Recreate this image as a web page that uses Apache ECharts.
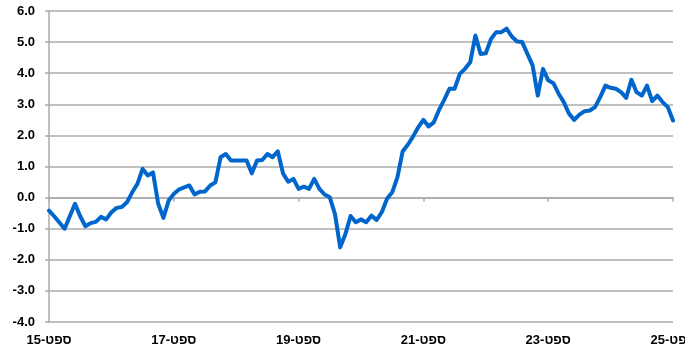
<!DOCTYPE html>
<html>
<head>
<meta charset="utf-8">
<script src="https://cdn.jsdelivr.net/npm/echarts@6/dist/echarts.min.js"></script>
<style>
html,body{margin:0;padding:0;background:#fff;}
#chart{width:685px;height:362px;}
</style>
</head>
<body>
<div id="chart"></div>
<script>
// Monthly series, Sep 2015 .. Sep 2025 (121 points)
const startYear = 2015, startMonth = 9, monthCount = 121;
const values = [
  -0.42, -0.6, -0.8, -1.0, -0.6, -0.2, -0.6, -0.92, -0.82, -0.78,
  -0.62, -0.7, -0.47, -0.33, -0.3, -0.15, 0.17, 0.44, 0.92, 0.71,
  0.81, -0.2, -0.65, -0.1, 0.12, 0.26, 0.33, 0.39, 0.1, 0.19,
  0.2, 0.39, 0.49, 1.3, 1.4, 1.19, 1.19, 1.19, 1.19, 0.78,
  1.19, 1.21, 1.4, 1.3, 1.49, 0.78, 0.51, 0.6, 0.28, 0.35,
  0.28, 0.6, 0.28, 0.1, 0.01, -0.53, -1.6, -1.17, -0.59, -0.79,
  -0.7, -0.79, -0.58, -0.72, -0.47, -0.04, 0.17, 0.65, 1.48, 1.7,
  1.96, 2.26, 2.5, 2.29, 2.42, 2.82, 3.14, 3.5, 3.5, 3.98,
  4.14, 4.35, 5.21, 4.62, 4.64, 5.1, 5.32, 5.32, 5.43, 5.18,
  5.02, 5.0, 4.62, 4.25, 3.28, 4.14, 3.77, 3.68, 3.34, 3.07,
  2.7, 2.5, 2.67, 2.78, 2.8, 2.91, 3.23, 3.6, 3.53, 3.5,
  3.39, 3.21, 3.79, 3.39, 3.28, 3.6, 3.1, 3.28, 3.07, 2.91,
  2.48
];
const tickLabels = ["ספט-15", "ספט-17", "ספט-19", "ספט-21", "ספט-23", "ספט-25"];
const yTicks = { min: -4, max: 6, interval: 1 };

const categories = [];
for (let i = 0; i < monthCount; i++) {
  const m = (startMonth - 1 + i) % 12 + 1;
  const y = startYear + Math.floor((startMonth - 1 + i) / 12);
  categories.push(y + '-' + (m < 10 ? '0' + m : m));
}

const FONT = "Arial, 'Liberation Sans', 'DejaVu Sans', sans-serif";
const GRID_COLOR = '#ababab';

const chart = echarts.init(document.getElementById('chart'), null, { renderer: 'canvas' });
chart.setOption({
  animation: false,
  backgroundColor: '#ffffff',
  grid: { left: 49, right: 12, top: 11, bottom: 40, containLabel: false, outerBoundsMode: 'none' },
  xAxis: [
    {
      type: 'category',
      data: categories,
      boundaryGap: false,
      position: 'bottom',
      axisLine: { show: false, onZero: false },
      axisTick: { show: false },
      splitLine: { show: false },
      axisLabel: {
        interval: 23,
        margin: 12,
        color: '#000',
        fontWeight: 'bold',
        fontSize: 13,
        fontFamily: FONT,
        hideOverlap: false,
        formatter: function (val, idx) { return tickLabels[Math.round(idx / 24)] || ''; }
      }
    },
    {
      type: 'category',
      data: categories,
      boundaryGap: false,
      position: 'bottom',
      axisLine: { show: true, onZero: true, lineStyle: { color: GRID_COLOR, width: 1.5 } },
      axisTick: { show: true, interval: 23, length: 4, lineStyle: { color: GRID_COLOR, width: 1.5 } },
      axisLabel: { show: false },
      splitLine: { show: false }
    }
  ],
  yAxis: {
    type: 'value',
    min: yTicks.min,
    max: yTicks.max,
    interval: yTicks.interval,
    axisLine: { show: true, lineStyle: { color: GRID_COLOR, width: 1.5 } },
    axisTick: { show: true, length: 4, lineStyle: { color: GRID_COLOR, width: 1.5 } },
    splitLine: { show: true, lineStyle: { color: GRID_COLOR, width: 1.5 } },
    axisLabel: {
      margin: 14,
      color: '#000',
      fontWeight: 'bold',
      fontSize: 13,
      fontFamily: FONT,
      formatter: function (v) { return v.toFixed(1); }
    }
  },
  series: [
    {
      type: 'line',
      xAxisIndex: 0,
      data: values,
      showSymbol: false,
      symbol: 'none',
      smooth: false,
      lineStyle: { color: '#0066cc', width: 4, join: 'round', cap: 'round' },
      z: 5
    }
  ]
});
</script>
</body>
</html>
